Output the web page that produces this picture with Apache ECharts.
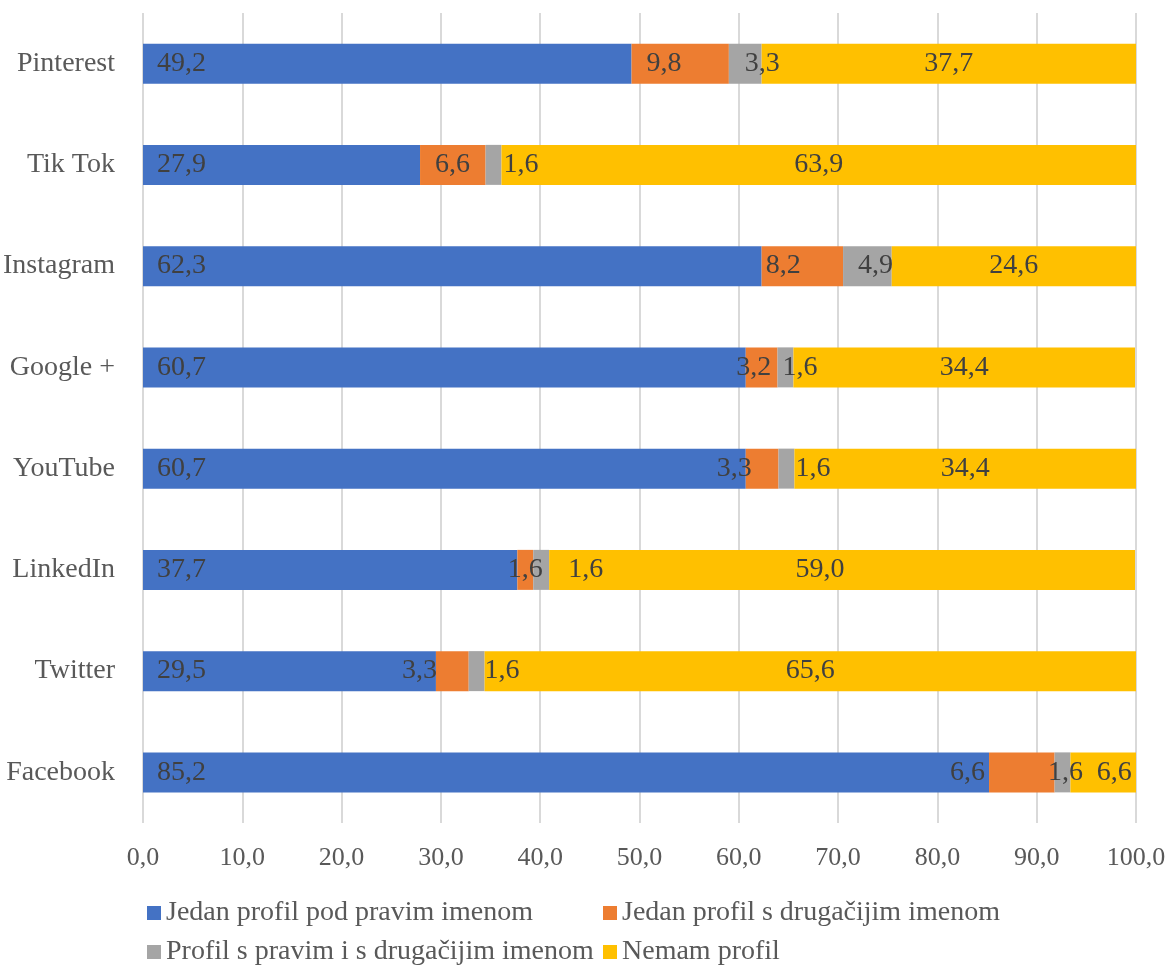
<!DOCTYPE html>
<html>
<head>
<meta charset="utf-8">
<script src="https://cdn.jsdelivr.net/npm/echarts@6/dist/echarts.min.js"></script>
<style>
  html, body { margin: 0; padding: 0; background: #fff; }
  #chart { width: 1170px; height: 972px; }
</style>
</head>
<body>
<div id="chart"></div>
<script>
    // data (bottom to top, as the category axis draws them)
    var categories = ['Facebook', 'Twitter', 'LinkedIn', 'YouTube', 'Google +', 'Instagram', 'Tik Tok', 'Pinterest'];
    var seriesNames = ['Jedan profil pod pravim imenom', 'Jedan profil s drugačijim imenom',
        'Profil s pravim i s drugačijim imenom', 'Nemam profil'];
    var pravoIme = [85.2, 29.5, 37.7, 60.7, 60.7, 62.3, 27.9, 49.2];
    var drugoIme = [6.6, 3.3, 1.6, 3.3, 3.2, 8.2, 6.6, 9.8];
    var oba = [1.6, 1.6, 1.6, 1.6, 1.6, 4.9, 1.6, 3.3];
    var nemam = [6.6, 65.6, 59.0, 34.4, 34.4, 24.6, 63.9, 37.7];
    var xTicks = [0, 10, 20, 30, 40, 50, 60, 70, 80, 90, 100];

    var colors = ['#4472C4', '#ED7D31', '#A5A5A5', '#FFC000'];
    var serif = '"Liberation Serif", "Times New Roman", serif';

    function fmt(v) {
        return v.toFixed(1).replace('.', ',');
    }

    // label placement tweaks per category (Excel put some labels off-centre)
    var labelTweaks = [
        {},
        {
            'Instagram': { position: 'insideLeft', distance: 4 },
            'Google +': { position: 'inside', offset: [-8, 0] },
            'YouTube': { position: 'left', distance: -6 },
            'LinkedIn': { position: 'inside' },
            'Twitter': { position: 'left', distance: -1 },
            'Facebook': { position: 'left', distance: 4 }
        },
        {
            'Pinterest': { position: 'inside', offset: [17, 0] },
            'Tik Tok': { position: 'right', distance: 2 },
            'Instagram': { position: 'inside', offset: [8, 0] },
            'Google +': { position: 'insideLeft', distance: 5 },
            'YouTube': { position: 'right', distance: 1 },
            'LinkedIn': { position: 'right', distance: 19 },
            'Twitter': { position: 'right', distance: 0 },
            'Facebook': { position: 'inside', offset: [3, 0] }
        },
        {
            'LinkedIn': { position: 'inside', offset: [-22, 0] },
            'Facebook': { position: 'inside', offset: [11, 0] }
        }
    ];
    var baseLabels = [
        { position: 'insideLeft', distance: 14 },
        { position: 'insideLeft', distance: 15 },
        { position: 'inside' },
        { position: 'inside' }
    ];

    function buildSeries(idx, values) {
        return {
            name: seriesNames[idx],
            type: 'bar',
            stack: 'total',
            barWidth: 40,
            itemStyle: { color: colors[idx] },
            label: Object.assign({
                show: true,
                color: '#404040',
                fontFamily: serif,
                fontSize: 28,
                formatter: function (p) { return fmt(p.value); }
            }, baseLabels[idx]),
            data: values.map(function (v, i) {
                var t = labelTweaks[idx][categories[i]];
                return t ? { value: v, label: t } : v;
            })
        };
    }

    function legendItem(idx, left, top) {
        return {
            data: [seriesNames[idx]],
            left: left,
            top: top,
            padding: 0,
            icon: 'rect',
            itemWidth: 14,
            itemHeight: 14,
            textStyle: { color: '#595959', fontFamily: serif, fontSize: 28, lineHeight: 30 }
        };
    }

    var chart = echarts.init(document.getElementById('chart'));
    var option = {
        animation: false,
        backgroundColor: '#fff',
        grid: { left: 143, right: 34, top: 13, bottom: 149, outerBoundsMode: 'none' },
        legend: [
            legendItem(0, 147, 898),
            legendItem(1, 603, 898),
            legendItem(2, 147, 937),
            legendItem(3, 603, 937)
        ],
        xAxis: {
            type: 'value',
            min: xTicks[0],
            max: xTicks[xTicks.length - 1],
            interval: xTicks[1] - xTicks[0],
            axisLine: { show: false },
            axisTick: { show: false },
            axisLabel: {
                color: '#595959', fontFamily: serif, fontSize: 26, margin: 22,
                formatter: function (v) { return fmt(v); }
            },
            splitLine: { show: true, lineStyle: { color: '#D9D9D9', width: 2 } }
        },
        yAxis: {
            type: 'category',
            data: categories,
            axisLine: { show: false },
            axisTick: { show: false },
            axisLabel: { color: '#595959', fontFamily: serif, fontSize: 28, margin: 28 }
        },
        series: [
            buildSeries(0, pravoIme),
            buildSeries(1, drugoIme),
            buildSeries(2, oba),
            buildSeries(3, nemam)
        ]
    };
    chart.setOption(option);
</script>
</body>
</html>
